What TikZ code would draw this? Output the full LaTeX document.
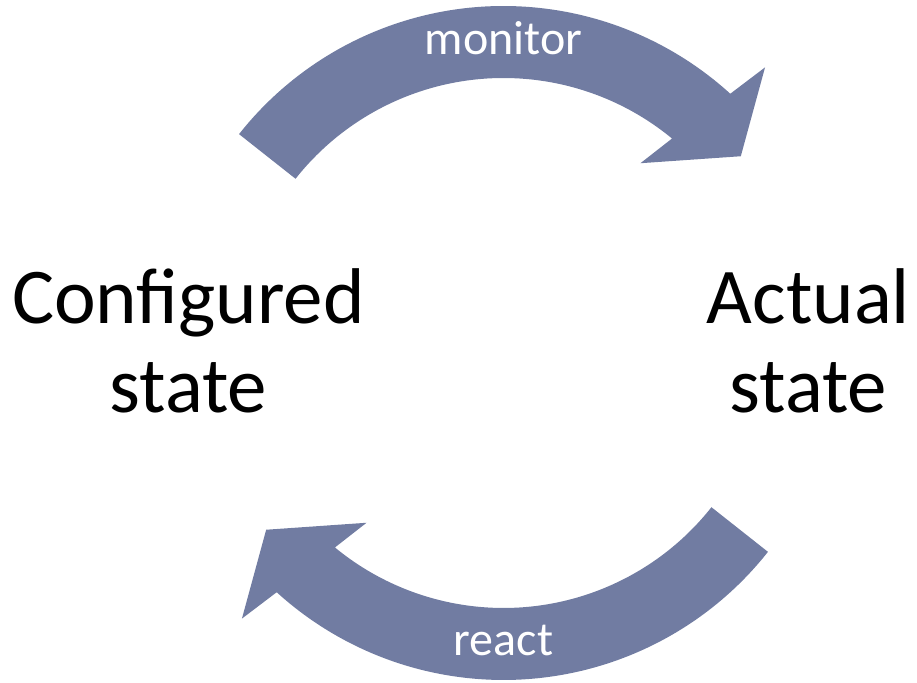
\documentclass[tikz,border=0pt]{standalone}
\usepackage{fontspec}
\setmainfont{Carlito}
\usepackage{tikz}
\definecolor{arrowblue}{RGB}{113,124,162}

\begin{document}
\begin{tikzpicture}[x=0.5pt,y=0.5pt,
  bigarrow/.style={fill=arrowblue},
  bigtext/.style={align=center,font=\fontsize{39.5}{44.5}\selectfont},
  arrowtext/.style={text=white,font=\fontsize{24}{28}\selectfont}]
%\draw[help lines] (-503,-340) grid (413,343);
\useasboundingbox (-503.5,-340) rectangle (413.5,343);
\coordinate (c) at (0,0);
% top arrow, bottom one is the same turned round
\foreach \turn in {0,180}
  \fill[bigarrow,rotate=\turn] (141.7:337) arc[start angle=141.7, end angle=47.7, radius=337]
    -- (46.5:380) -- (38.2:302) -- (52.7:226) -- (50.5:265)
    arc[start angle=50.5, end angle=141.7, radius=265] -- cycle;
\node (conf) [bigtext] at (-315,2) {Configured\\state};
\node (actual) [bigtext] at (305,2) {Actual\\state};
\node (mon) [arrowtext,anchor=base] at (0,288) {monitor};
\node (react) [arrowtext,anchor=base] at (0,-313) {react};
\end{tikzpicture}
\end{document}
